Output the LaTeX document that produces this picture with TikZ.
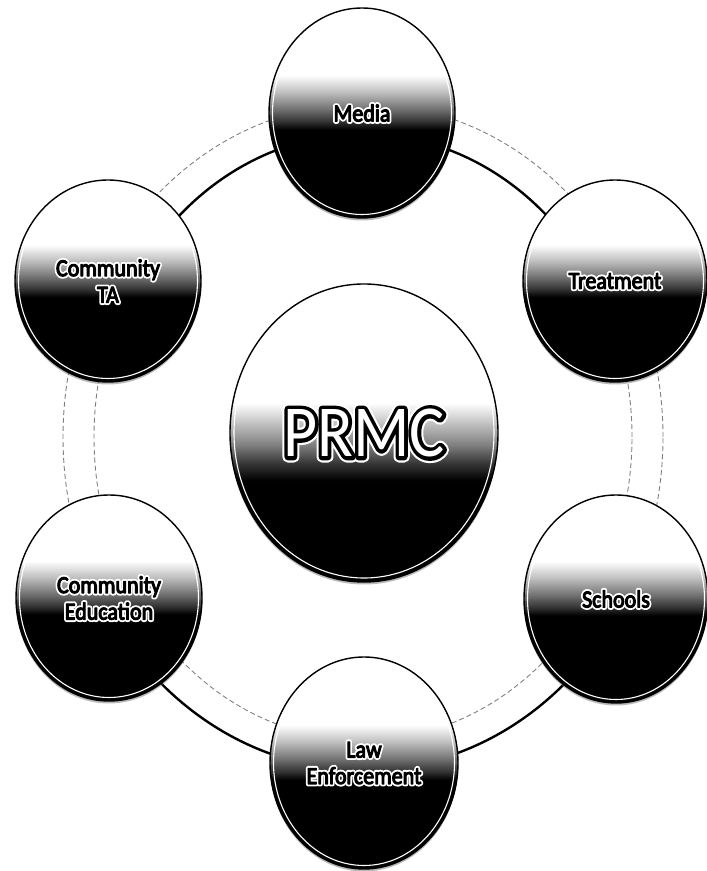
\documentclass[tikz,border=0pt]{standalone}
\usepackage{fontspec}
\setmainfont{Carlito}
\usepackage{graphicx}
\usetikzlibrary{shapes.geometric,shadows}

% orb fill: white cap, grey band, black base
\pgfdeclareverticalshading{orbshade}{100bp}{%
  color(0bp)=(black); color(25bp)=(black); color(46bp)=(black);
  color(48bp)=(black!80); color(51bp)=(black!55); color(55bp)=(black!25);
  color(59bp)=(white); color(75bp)=(white); color(100bp)=(white)}
\pgfdeclareverticalshading{hubshade}{100bp}{%
  color(0bp)=(black); color(25bp)=(black); color(42bp)=(black);
  color(45bp)=(black!78); color(48bp)=(black!50); color(51.5bp)=(black!25);
  color(55bp)=(white); color(75bp)=(white); color(100bp)=(white)}

% text drawn in a given PDF render mode and stroke width
\newcommand\trmode[3]{%
  \special{pdf:literal direct #1 Tr #2 w 1 j}#3\special{pdf:literal direct 0 Tr}}
% small labels: dark letters with a white halo
\newcommand\lbl[1]{\scalebox{1}[1.11]{%
  \rlap{\color{white}\trmode{2}{4.4}{#1}}\color{black}\trmode{2}{1.0}{#1}}}
% hub label: white letters, black outline, white halo
\newcommand\hublbl[1]{\scalebox{1}[1.11]{%
  \rlap{\color{white}\trmode{2}{11}{#1}}\rlap{\color{black}\trmode{2}{7}{#1}}%
  \color{white}#1}}

\tikzset{
  orb/.style={ellipse, draw=black, line width=1.4pt, shading=orbshade,
    inner sep=0pt, align=center, text=black,
    font=\fontsize{22}{26.5}\selectfont,
    drop shadow={shadow xshift=0pt, shadow yshift=-2.5pt, fill=black!60, opacity=0.45}},
  rim/.style={white, line width=1.1pt},
  ringfaint/.style={gray, line width=0.9pt, dash pattern=on 5pt off 3pt},
  ringdark/.style={black, line width=2.4pt},
}

% name, x, y, x radius, y radius, label
\newcommand\orbnode[6]{%
  \node[orb, minimum width={2*#4}, minimum height={2*#5}] (#1) at (#2,#3) {#6};
  \draw[rim] (#1.center) ellipse [x radius={#4-3.5}, y radius={#5-3.5}];
}

\begin{document}
\begin{tikzpicture}[x=1pt, y=1pt]
  \useasboundingbox (0,0) rectangle (707,871);

  % the ring behind the orbs
  \coordinate (rc) at (363,434);
  \draw[ringfaint] (rc) ellipse [x radius=300, y radius=333];
  \draw[ringfaint] (rc) ellipse [x radius=269, y radius=303];
  \draw[ringdark, line cap=round] (rc) ++(20:269 and 303)
    arc[start angle=20, end angle=160, x radius=269, y radius=303];
  \draw[ringdark, line cap=round] (rc) ++(200:300 and 333)
    arc[start angle=200, end angle=340, x radius=300, y radius=333];

  % orbs
  \orbnode{media}{362}{758}{93}{105}{\lbl{Media}}
  \orbnode{ta}{108}{590}{93}{101}{\lbl{Community}\\\lbl{TA}}
  \orbnode{treat}{615}{590}{92}{101}{\lbl{Treatment}}
  \orbnode{comed}{109}{273}{93}{103}{\lbl{Community}\\\lbl{Education}}
  \orbnode{schools}{616}{272}{92}{104}{\lbl{Schools}}
  \orbnode{law}{364}{108}{94}{106}{\lbl{Law}\\\lbl{Enforcement}}

  \node[orb, shading=hubshade, minimum width=268, minimum height=298,
        font=\fontsize{66}{70}\selectfont] (prmc) at (364,438) {\hublbl{PRMC}};
  \draw[rim] (prmc.center) ellipse [x radius=130, y radius=145];
\end{tikzpicture}
\end{document}
